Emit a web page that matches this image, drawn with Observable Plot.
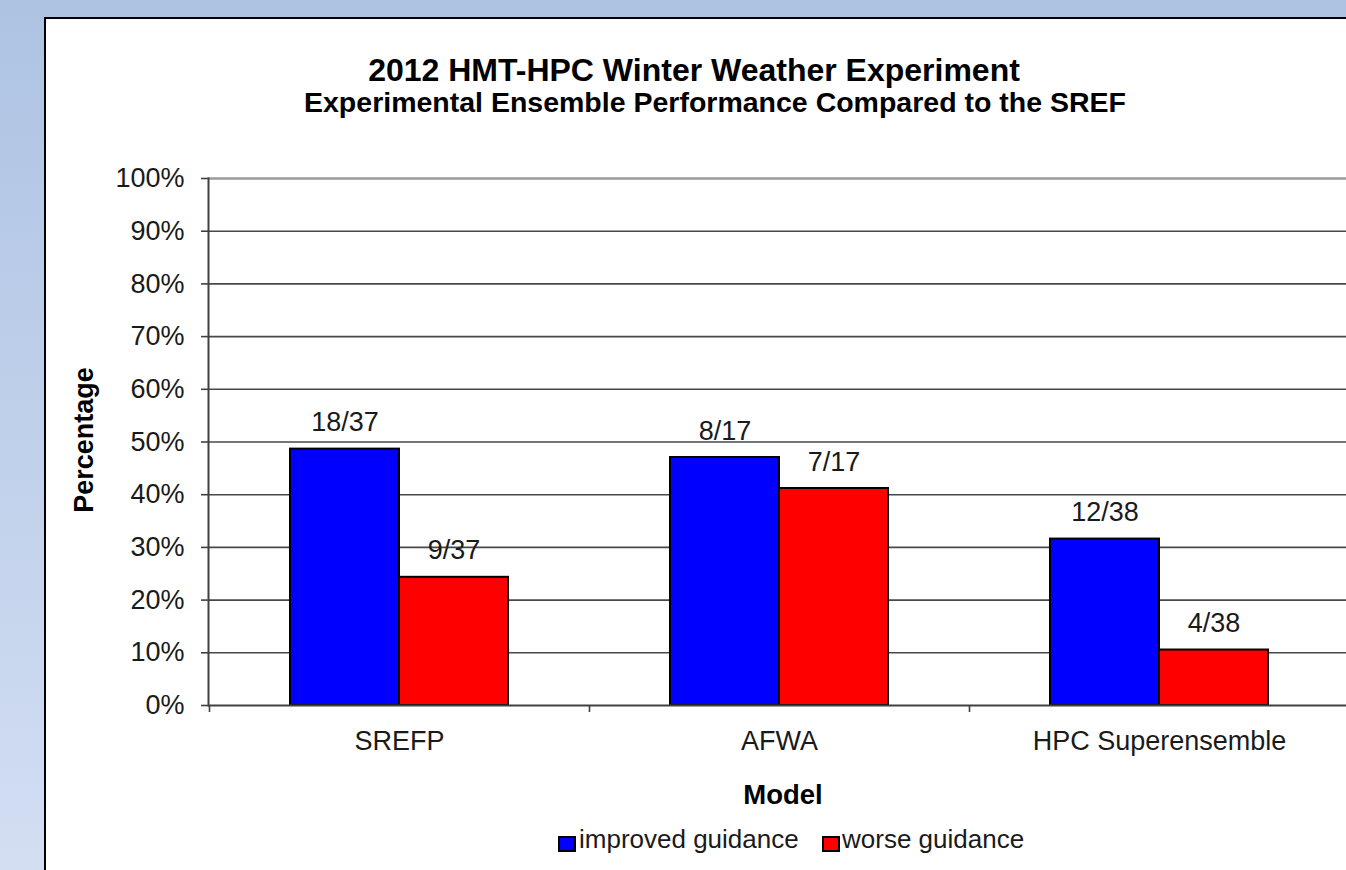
<!DOCTYPE html>
<html>
<head>
<meta charset="utf-8">
<script src="https://cdn.jsdelivr.net/npm/d3@7"></script>
<script src="https://cdn.jsdelivr.net/npm/@observablehq/plot@0.6"></script>
<style>
  html, body { margin: 0; padding: 0; overflow: hidden; }
  body { width: 1346px; height: 870px; font-family: "Liberation Sans", Arial, sans-serif; }
  #page { position: relative; width: 1346px; height: 870px; overflow: hidden;
          background: linear-gradient(to bottom, #aec3e3 0%, #c3d3ec 60%, #d3def2 100%); }
  #box { position: absolute; left: 44px; top: 17px; width: 1400px; height: 900px;
         background: #fff; border: 2px solid #000; box-sizing: border-box; }
  #chart { position: absolute; left: 0; top: 0; }
  .t { position: absolute; white-space: nowrap; line-height: 1; color: #000; }
  .sw { position: absolute; width: 18px; height: 16px; border: 2px solid #000; box-sizing: border-box; }
</style>
</head>
<body>
<div id="page">
  <div id="box"></div>
  <div id="chart"></div>
  <div class="t" style="left:694px; top:54px; font-size:32px; font-weight:bold; transform:translateX(-50%);">2012 HMT-HPC Winter Weather Experiment</div>
  <div class="t" style="left:715px; top:88px; font-size:28.5px; font-weight:bold; transform:translateX(-50%);">Experimental Ensemble Performance Compared to the SREF</div>
  <div class="t" style="left:84px; top:440px; font-size:27px; font-weight:bold; transform:translate(-50%,-50%) rotate(-90deg);">Percentage</div>
  <div class="t" style="left:783px; top:781px; font-size:27.5px; font-weight:bold; transform:translateX(-50%);">Model</div>
  <div class="sw" style="left:558px; top:836px; background:#0000ff;"></div>
  <div class="t" style="left:579px; top:826px; font-size:26px; color:#1a1a1a;">improved guidance</div>
  <div class="sw" style="left:822px; top:836px; background:#ff0000;"></div>
  <div class="t" style="left:842px; top:826px; font-size:26px; color:#1a1a1a;">worse guidance</div>
</div>
<script>
// ---- data ----
const models = ["SREFP", "AFWA", "HPC Superensemble"];
const improvedCount = [18, 8, 12];
const worseCount = [9, 7, 4];
const totals = [37, 17, 38];
const seriesNames = ["improved guidance", "worse guidance"];
const seriesColors = ["#0000ff", "#ff0000"];
const yTicks = [0, 0.1, 0.2, 0.3, 0.4, 0.5, 0.6, 0.7, 0.8, 0.9, 1.0];

// ---- table built from the arrays ----
const rows = [];
models.forEach((m, i) => {
  rows.push({model: m, series: seriesNames[0], value: improvedCount[i] / totals[i], label: `${improvedCount[i]}/${totals[i]}`});
  rows.push({model: m, series: seriesNames[1], value: worseCount[i] / totals[i], label: `${worseCount[i]}/${totals[i]}`});
});
const imp = rows.filter(d => d.series === seriesNames[0]);
const wor = rows.filter(d => d.series === seriesNames[1]);

// ---- layout constants ----
const bandW = 380, outer = 81, barW = 109;
const half = bandW / 2;
const off = half - outer - barW / 2; // distance from band centre to each bar centre

const chart = Plot.plot({
  width: 1346,
  height: 870,
  marginLeft: 208,
  marginRight: 0,
  marginTop: 178,
  marginBottom: 165,
  style: {background: "transparent", fontFamily: "'Liberation Sans', Arial, sans-serif", fontSize: "27px", color: "#1a1a1a", overflow: "visible"},
  x: {domain: models, range: [209, 209 + 3 * bandW], padding: 0, axis: null},
  y: {domain: [0, 1], axis: null},
  marks: [
    Plot.ruleY(yTicks.filter(d => d > 0 && d < 1), {stroke: "#484848", strokeWidth: 1.6}),
    Plot.ruleY([1], {stroke: "#9a9a9a", strokeWidth: 2.5}),
    Plot.barY(imp, {x: "model", y: "value", fill: seriesColors[0], stroke: "#000", strokeWidth: 2,
      insetLeft: outer, insetRight: bandW - outer - barW}),
    Plot.barY(wor, {x: "model", y: "value", fill: seriesColors[1], stroke: "#000", strokeWidth: 2,
      insetLeft: outer + barW, insetRight: outer}),
    Plot.ruleY([0], {stroke: "#404040", strokeWidth: 2}),
    Plot.frame({anchor: "left", stroke: "#404040", strokeWidth: 2}),
    Plot.axisY({ticks: yTicks, tickFormat: d => Math.round(d * 100) + "%", tickSize: 7, tickPadding: 17,
      label: null, stroke: "#404040", strokeWidth: 1.6, fontSize: 27}),
    Plot.axisX({tickSize: 0, tickPadding: 25, label: null, fontSize: 27}),
    Plot.axisX({tickSize: 7, tickFormat: () => "", dx: -half, label: null, stroke: "#404040", strokeWidth: 1.6}),
    Plot.text(imp, {x: "model", y: "value", text: "label", dx: -off, dy: -18, lineAnchor: "bottom", fontSize: 27, fill: "#1a1a1a"}),
    Plot.text(wor, {x: "model", y: "value", text: "label", dx: off, dy: -18, lineAnchor: "bottom", fontSize: 27, fill: "#1a1a1a"})
  ]
});
document.getElementById("chart").appendChild(chart);
</script>
</body>
</html>
